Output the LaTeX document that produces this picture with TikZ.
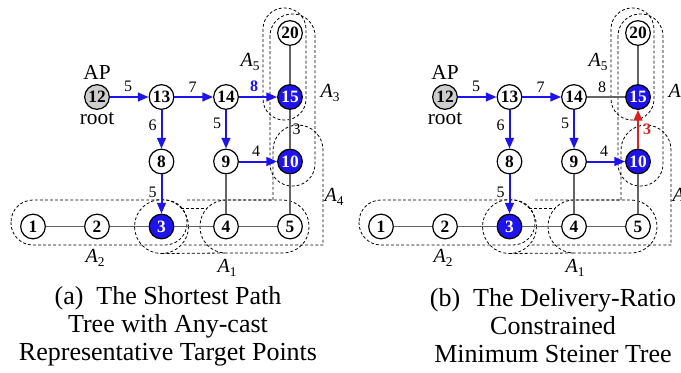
\documentclass[tikz,border=0pt]{standalone}
\usepackage{fontspec}
\setmainfont{Liberation Serif}
\usetikzlibrary{arrows.meta}
\definecolor{nblue}{RGB}{30,20,235}
\definecolor{nred}{RGB}{215,35,35}
\definecolor{egray}{RGB}{100,100,100}
\definecolor{apgray}{RGB}{205,205,205}
\newcommand\grplabel[2]{{\itshape #1}\raisebox{-0.45ex}{\fontsize{10}{10}\selectfont #2}}
\newcommand\drawpanel[1]{%
  % groups
  \draw[grp] (11,200) [rounded corners=22*0.75pt] rectangle (187,245);
  \draw[grp] (161.5,226.5) circle[radius=27];
  \draw[grp] (200,200) [rounded corners=26*0.75pt] rectangle (309,253);
  \draw[grp] (181,208) -- (207,208);
  \draw[grp] (161.5,253.5) -- (226,253);
  \draw[grp] (187,200) -- (273,200) -- (273,150) arc[start angle=180,end angle=360,radius=25] -- (323,150) -- (323,245) -- (181,245);
  \draw[grp] (270,14) [rounded corners=22*0.75pt] rectangle (315,186);
  \draw[grp] (263,8) [rounded corners=21*0.75pt] rectangle (306,120);
  \node[glab] (#1la5) at (250,62) {\grplabel{A}{5}};
  \node[glab] (#1la3) at (330,93) {\grplabel{A}{3}};
  \node[glab] (#1la4) at (334,197) {\grplabel{A}{4}};
  \node[glab] (#1la2) at (95,258) {\grplabel{A}{2}};
  \node[glab] (#1la1) at (227,268) {\grplabel{A}{1}};
  % nodes
  \node[nd] (#1n20) at (290,33) {20};
  \node[ap] (#1n12) at (97,97) {12};
  \node[nd] (#1n13) at (161.5,97) {13};
  \node[nd] (#1n14) at (226,97) {14};
  \node[tg] (#1n15) at (290,97) {15};
  \node[nd] (#1n8) at (161.5,161.5) {8};
  \node[nd] (#1n9) at (226,161.5) {9};
  \node[tg] (#1n10) at (290,161.5) {10};
  \node[nd] (#1n1) at (33,226.5) {1};
  \node[nd] (#1n2) at (97,226.5) {2};
  \node[tg] (#1n3) at (161.5,226.5) {3};
  \node[nd] (#1n4) at (226,226.5) {4};
  \node[nd] (#1n5) at (290,226.5) {5};
  \node[txt] (#1ap) at (97,72) {AP};
  \node[txt] (#1root) at (97,119) {root};
  % plain edges
  \draw[plainedge] (#1n20) -- (#1n15);
  \draw[plainedge] (#1n10) -- (#1n5);
  \draw[plainedge] (#1n9) -- (#1n4);
  \draw[plainedge] (#1n1) -- (#1n2);
  \draw[plainedge] (#1n2) -- (#1n3);
  \draw[plainedge] (#1n3) -- (#1n4);
  \draw[plainedge] (#1n4) -- (#1n5);
  % tree edges
  \draw[barr] (#1n12) -- node[wl,above=3pt,pos=0.47] {5} (#1n13);
  \draw[barr] (#1n13) -- node[wl,above=3pt,pos=0.47] {7} (#1n14);
  \draw[barr] (#1n13) -- node[wl,left=3pt,pos=0.4] {6} (#1n8);
  \draw[barr] (#1n14) -- node[wl,left=3pt,pos=0.35] {5} (#1n9);
  \draw[barr] (#1n9) -- node[wl,above=3pt,pos=0.45] {4} (#1n10);
  \draw[barr] (#1n8) -- node[wl,left=3pt,pos=0.45] {5} (#1n3);
}
\begin{document}
\begin{tikzpicture}[x=0.75pt,y=-0.75pt,
  nd/.style={circle,draw=black,line width=0.9pt,fill=white,minimum size=18.5pt,inner sep=0pt,font=\fontsize{13}{13}\selectfont\bfseries},
  tg/.style={nd,fill=nblue,text=white},
  ap/.style={nd,fill=apgray},
  plainedge/.style={draw=egray,line width=1pt},
  barr/.style={draw=nblue,line width=1.5pt,-{Triangle[length=8pt,width=6.5pt]}},
  rarr/.style={draw=nred,line width=1.5pt,-{Triangle[length=8pt,width=6.5pt]}},
  grp/.style={draw=black,line width=0.6pt,dash pattern=on 2.2pt off 1.6pt},
  wl/.style={font=\fontsize{12}{12}\selectfont,inner sep=0pt},
  glab/.style={font=\fontsize{15}{15}\selectfont,inner sep=0pt},
  txt/.style={font=\fontsize{16}{16}\selectfont,inner sep=0pt},
  captxt/.style={align=center,font=\fontsize{19.5}{21}\selectfont,inner sep=0pt}]
\useasboundingbox (0,0) rectangle (681,372);
\clip (0,0) rectangle (681,372);
\fill[white] (0,0) rectangle (681,372);
% panel (a)
\drawpanel{a}
\draw[plainedge] (an15) -- node[wl,right=1.5pt,pos=0.5,text=black] {3} (an10);
\draw[barr] (an14) -- node[wl,above=3pt,pos=0.4,text=nblue,font=\fontsize{12}{12}\selectfont\bfseries] {8} (an15);
\node[captxt] (capa) at (168,326) {(a)\ \ The Shortest Path\\Tree with Any-cast\\Representative Target Points};
% panel (b)
\begin{scope}[xshift=261pt]
\drawpanel{b}
\draw[plainedge] (bn14) -- node[wl,above=3pt,pos=0.4] {8} (bn15);
\draw[rarr] (bn10) -- node[wl,right=3pt,pos=0.5,text=nred,font=\fontsize{12}{12}\selectfont\bfseries] {3} (bn15);
\node[captxt] (capb) at (205,326) {(b)\ \ The Delivery-Ratio\\Constrained\\Minimum Steiner Tree};
\end{scope}
\end{tikzpicture}
\end{document}
